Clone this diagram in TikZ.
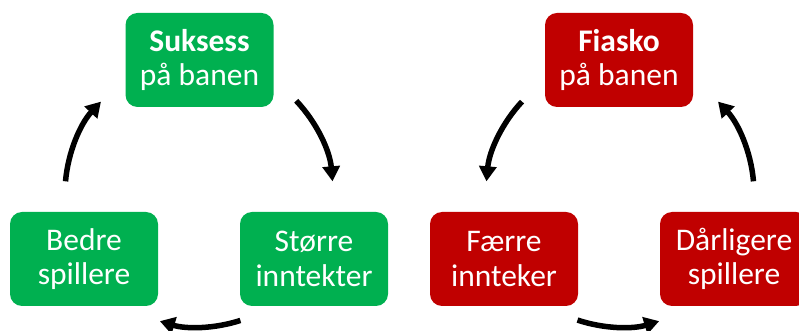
\documentclass[tikz,border=0pt]{standalone}
\usepackage{fontspec}
\setmainfont{Carlito}
\usetikzlibrary{arrows.meta}
\definecolor{goodgreen}{HTML}{00B050}
\definecolor{badred}{HTML}{C00000}
\begin{document}
\begin{tikzpicture}[x=1pt,y=1pt,
  box/.style={rounded corners=12pt, minimum width=148pt, minimum height=94pt,
    text=white, align=center, inner sep=0pt,
    font=\fontsize{31.5}{34.5}\selectfont},
  good/.style={box, fill=goodgreen},
  bad/.style={box, fill=badred},
  cyc/.style={line width=5.5pt, -{Triangle[width=17pt,length=15pt]}}]
\useasboundingbox (0,0) rectangle (799,331);

% success cycle
\coordinate (L) at (199,138);
\node[good] (suk) at (199.5,271) {\textbf{Suksess}\\på banen};
\node[good] (bedre) at (84,72) {Bedre\\spillere};
\node[good] (storre) at (314,72) {Større\\inntekter};
\draw[cyc] ([shift={(175:134pt)}]L) arc[start angle=175, end angle=137, radius=134pt];
\draw[cyc] ([shift={(43.5:134pt)}]L) arc[start angle=43.5, end angle=5, radius=134pt];
\draw[cyc] ([shift={(-72:134pt)}]L) arc[start angle=-72, end angle=-107, radius=134pt];

% failure cycle
\coordinate (R) at (620,138);
\node[bad] (fiasko) at (619,271) {\textbf{Fiasko}\\på banen};
\node[bad] (faerre) at (504,72) {Færre\\innteker};
\node[bad] (darlig) at (734,72) {Dårligere\\spillere};
\draw[cyc] ([shift={(137:134pt)}]R) arc[start angle=137, end angle=175, radius=134pt];
\draw[cyc] ([shift={(-108.5:134pt)}]R) arc[start angle=-108.5, end angle=-73, radius=134pt];
\draw[cyc] ([shift={(5:134pt)}]R) arc[start angle=5, end angle=43, radius=134pt];
\end{tikzpicture}
\end{document}
